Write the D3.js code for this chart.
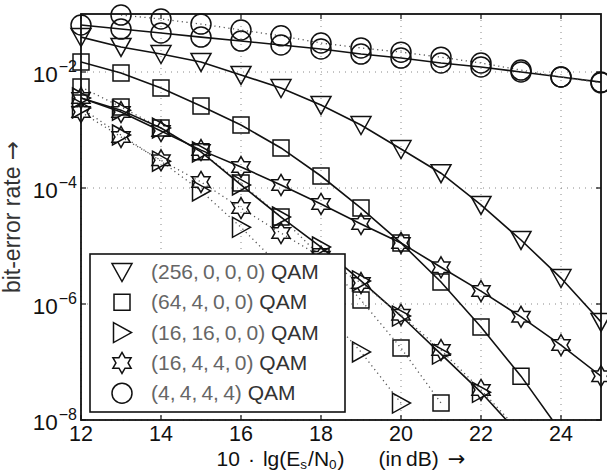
<!DOCTYPE html>
<html>
<head>
<meta charset="utf-8">
<script src="https://cdn.jsdelivr.net/npm/d3@7"></script>
<style>
  body { margin: 0; background: #fff; }
  text { font-family: "Liberation Sans", Arial, sans-serif; }
  .arrow { font-family: "DejaVu Sans", sans-serif; }
</style>
</head>
<body>
<svg id="chart"></svg>
<script>
// Es/N0 in dB
const snr = [12, 13, 14, 15, 16, 17, 18, 19, 20, 21, 22, 23, 24, 25];

// bit-error rates (null = no point)
const ber4444Solid  = [6.46e-2, 5.5e-2, 4.7e-2, 4.0e-2, 3.42e-2, 2.92e-2, 2.49e-2, 2.04e-2, 1.74e-2, 1.43e-2, 1.22e-2, 1.0e-2, 8.2e-3, 6.7e-3];
const ber4444Dotted = [null, 9.6e-2, 8.2e-2, 6.7e-2, 5.3e-2, 4.2e-2, 3.16e-2, 2.6e-2, 2.2e-2, 1.8e-2, 1.43e-2, 1.08e-2, 8.2e-3, 6.5e-3];
const ber256        = [4.0e-2, 2.7e-2, 2.04e-2, 1.49e-2, 8.9e-3, 5.3e-3, 2.7e-3, 1.22e-3, 4.7e-4, 1.8e-4, 5.1e-5, 1.27e-5, 2.8e-6, 4.9e-7];
const ber64Solid    = [1.49e-2, 9.6e-3, 5.3e-3, 2.6e-3, 1.22e-3, 4.9e-4, 1.61e-4, 4.5e-5, 1.13e-5, 2.4e-6, 4.0e-7, 5.7e-8, 6.2e-9, null];
const ber64Dotted   = [5.5e-3, 2.5e-3, 1.08e-3, 4.2e-4, 1.22e-4, 3.16e-5, 6.5e-6, 1.17e-6, 1.74e-7, 1.96e-8, null, null, null, null];
const ber1616Solid  = [3.56e-3, 2.2e-3, 1.08e-3, 4.2e-4, 1.13e-4, 3.16e-5, 9.6e-6, 2.5e-6, 6.2e-7, 1.37e-7, 3.0e-8, 5.3e-9, null, null];
const ber1616Dotted = [2.4e-3, 8.2e-4, 2.9e-4, 8.9e-5, 2.1e-5, 4.3e-6, 8.5e-7, 1.49e-7, 1.96e-8, null, null, null, null, null];
const ber1644Solid  = [3.56e-3, 2.04e-3, 9.6e-4, 4.5e-4, 2.3e-4, 1.13e-4, 5.3e-5, 2.4e-5, 1.13e-5, 4.3e-6, 1.67e-6, 6.0e-7, 1.96e-7, 5.7e-8];
const ber1644Dotted = [2.04e-3, 7.6e-4, 3.0e-4, 1.27e-4, 4.5e-5, 1.67e-5, 6.5e-6, 2.3e-6, 6.5e-7, 1.61e-7, 3.3e-8, 6.0e-9, null, null];

const xTicks = [12, 14, 16, 18, 20, 22, 24];
const yTickExps = [-2, -4, -6, -8];
const legendLabels = ["(256,\u20090,\u20090,\u20090)", "(64,\u20094,\u20090,\u20090)", "(16,\u200916,\u20090,\u20090)", "(16,\u20094,\u20094,\u20090)", "(4,\u20094,\u20094,\u20094)"];
const legendMarkers = ["triDown", "square", "triRight", "star", "circle"];

const width = 607, height = 474;
const margin = {top: 14, right: 6, bottom: 54, left: 81};

const svg = d3.select("#chart").attr("width", width).attr("height", height);

const x = d3.scaleLinear().domain([12, 25]).range([margin.left, width - margin.right]);
const y = d3.scaleLog().domain([1e-8, 1e-1]).range([height - margin.bottom, margin.top]);

// marker outlines
function starPath(R) {
  const r = R / Math.sqrt(3);
  const pts = d3.range(12).map(k => {
    const a = (-90 + k * 30) * Math.PI / 180;
    const rr = k % 2 === 0 ? R : r;
    return [rr * Math.cos(a), rr * Math.sin(a)];
  });
  return "M" + pts.map(p => p[0].toFixed(2) + "," + p[1].toFixed(2)).join("L") + "Z";
}
const shapes = {
  triDown: "M-10,-8.5L10,-8.5L0,9.5Z",
  triRight: "M-8.5,-10L9.5,0L-8.5,10Z",
  square: "M-8,-8H8V8H-8Z",
  circle: "M10,0A10,10 0 1,1 -10,0A10,10 0 1,1 10,0Z",
  star: starPath(10.5)
};

const series = [
  {values: ber4444Solid, marker: "circle", dotted: false},
  {values: ber4444Dotted, marker: "circle", dotted: true},
  {values: ber256, marker: "triDown", dotted: false},
  {values: ber64Solid, marker: "square", dotted: false},
  {values: ber64Dotted, marker: "square", dotted: true},
  {values: ber1616Solid, marker: "triRight", dotted: false},
  {values: ber1616Dotted, marker: "triRight", dotted: true},
  {values: ber1644Solid, marker: "star", dotted: false},
  {values: ber1644Dotted, marker: "star", dotted: true}
];

// clip paths
const defs = svg.append("defs");
defs.append("clipPath").attr("id", "plotClip").append("rect")
  .attr("x", x(12)).attr("y", y(1e-1))
  .attr("width", x(25) - x(12)).attr("height", y(1e-8) - y(1e-1));
defs.append("clipPath").attr("id", "markClip").append("rect")
  .attr("x", 0).attr("y", 0)
  .attr("width", width).attr("height", y(1e-8));

// grid
const grid = svg.append("g");
xTicks.forEach(t => {
  grid.append("line")
    .attr("x1", x(t)).attr("x2", x(t))
    .attr("y1", y(1e-1)).attr("y2", y(1e-8))
    .attr("stroke", "#888").attr("stroke-width", 1)
    .attr("stroke-dasharray", "1,5");
});
yTickExps.forEach(e => {
  grid.append("line")
    .attr("x1", x(12)).attr("x2", x(25))
    .attr("y1", y(Math.pow(10, e))).attr("y2", y(Math.pow(10, e)))
    .attr("stroke", "#888").attr("stroke-width", 1)
    .attr("stroke-dasharray", "1,5");
});

// curves
const line = d3.line()
  .defined(d => d[1] != null)
  .x(d => x(d[0]))
  .y(d => y(d[1]));

const curves = svg.append("g").attr("clip-path", "url(#plotClip)");
series.forEach(s => {
  const pts = snr.map((v, i) => [v, s.values[i]]);
  curves.append("path")
    .datum(pts)
    .attr("d", line)
    .attr("fill", "none")
    .attr("stroke", s.dotted ? "#555" : "#111")
    .attr("stroke-width", s.dotted ? 1.3 : 1.6)
    .attr("stroke-dasharray", s.dotted ? "1.2,3.5" : null);
});

const marks = svg.append("g").attr("clip-path", "url(#markClip)");
series.forEach(s => {
  const pts = snr.map((v, i) => [v, s.values[i]]).filter(d => d[1] != null);
  marks.selectAll(null)
    .data(pts)
    .join("path")
    .attr("transform", d => `translate(${x(d[0])},${y(d[1])})`)
    .attr("d", shapes[s.marker])
    .attr("fill", "none")
    .attr("stroke", "#111")
    .attr("stroke-width", 1.5);
});

// frame
svg.append("rect")
  .attr("x", x(12)).attr("y", y(1e-1))
  .attr("width", x(25) - x(12)).attr("height", y(1e-8) - y(1e-1))
  .attr("fill", "none").attr("stroke", "#111").attr("stroke-width", 1.8);

// ticks (inward) and labels
const axes = svg.append("g");
xTicks.forEach(t => {
  axes.append("line").attr("x1", x(t)).attr("x2", x(t))
    .attr("y1", y(1e-8)).attr("y2", y(1e-8) - 5).attr("stroke", "#111").attr("stroke-width", 1.2);
  axes.append("line").attr("x1", x(t)).attr("x2", x(t))
    .attr("y1", y(1e-1)).attr("y2", y(1e-1) + 5).attr("stroke", "#111").attr("stroke-width", 1.2);
  axes.append("text")
    .attr("x", x(t)).attr("y", y(1e-8) + 21)
    .attr("text-anchor", "middle")
    .style("font-size", "21.5px").style("fill", "#111")
    .text(t);
});
yTickExps.forEach(e => {
  const yy = y(Math.pow(10, e));
  axes.append("line").attr("x1", x(12)).attr("x2", x(12) + 5)
    .attr("y1", yy).attr("y2", yy).attr("stroke", "#111").attr("stroke-width", 1.2);
  axes.append("line").attr("x1", x(25)).attr("x2", x(25) - 5)
    .attr("y1", yy).attr("y2", yy).attr("stroke", "#111").attr("stroke-width", 1.2);
  const t = axes.append("text")
    .attr("x", x(12) - 4).attr("y", yy + 10)
    .attr("text-anchor", "end")
    .style("font-size", "22.5px").style("fill", "#111");
  t.append("tspan").text("10");
  t.append("tspan").attr("dx", 1).attr("dy", -10).style("font-size", "16px").text("\u2212" + (-e));
});

// x axis label
const xl = svg.append("text")
  .attr("x", (x(12) + x(25)) / 2).attr("y", 466)
  .attr("text-anchor", "middle")
  .style("font-size", "21px").style("fill", "#111");
xl.append("tspan").text("10");
xl.append("tspan").attr("dx", 8).text("\u00b7");
xl.append("tspan").attr("dx", 8).text("lg(E");
xl.append("tspan").attr("dy", 3).style("font-size", "13.5px").text("s");
xl.append("tspan").attr("dy", -3).attr("dx", 1).text("/N");
xl.append("tspan").attr("dy", 3).style("font-size", "13.5px").text("0");
xl.append("tspan").attr("dy", -3).attr("dx", 1).text(")");
xl.append("tspan").attr("dx", 34).text("(in\u2009dB)");
xl.append("tspan").attr("dx", 9).attr("class", "arrow").style("font-size", "21px").text("\u2192");

const yl = svg.append("text")
  .attr("transform", `translate(20,${(y(1e-1) + y(1e-8)) / 2}) rotate(-90)`)
  .attr("text-anchor", "middle")
  .style("font-size", "23px").style("fill", "#333");
yl.append("tspan").text("bit-error rate ");
yl.append("tspan").attr("class", "arrow").text("\u2192");

// legend
const lg = svg.append("g");
lg.append("rect")
  .attr("x", 90).attr("y", 254).attr("width", 255).attr("height", 158)
  .attr("fill", "#fff").attr("stroke", "#111").attr("stroke-width", 1.6);
legendLabels.forEach((lab, i) => {
  const yy = 272 + i * 30.3;
  lg.append("path")
    .attr("transform", `translate(122,${yy})`)
    .attr("d", shapes[legendMarkers[i]])
    .attr("fill", "none").attr("stroke", "#111").attr("stroke-width", 1.5);
  const t = lg.append("text")
    .attr("x", 151).attr("y", yy + 7)
    .style("font-size", "21px");
  t.append("tspan").style("fill", "#666").text(lab);
  t.append("tspan").style("fill", "#333").text(" QAM");
});
</script>
</body>
</html>
